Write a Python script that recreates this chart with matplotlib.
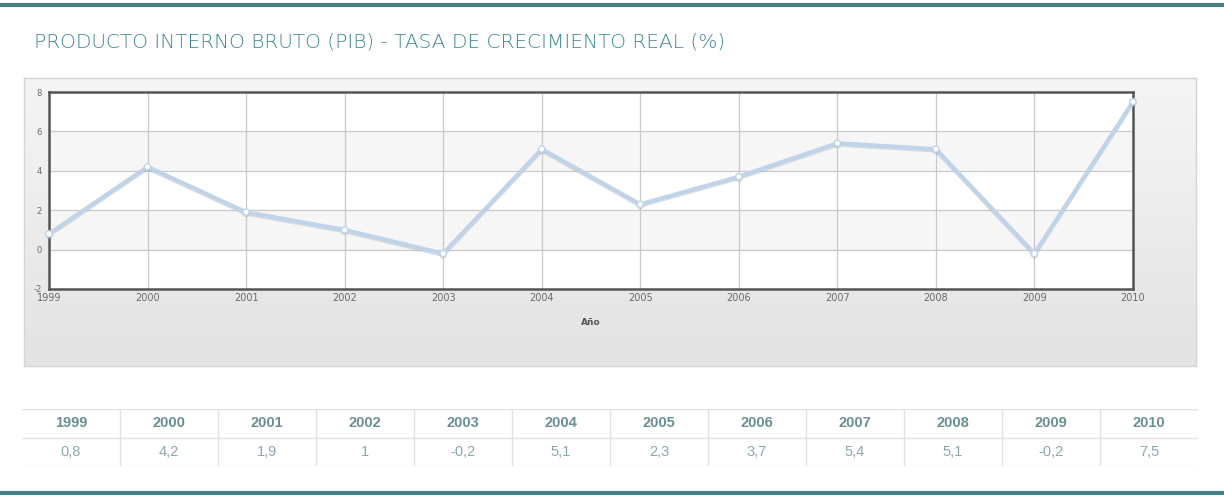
import numpy as np
import matplotlib.pyplot as plt
import matplotlib.patheffects as pe
from matplotlib.colors import LinearSegmentedColormap
from matplotlib.lines import Line2D

plt.rcParams['axes.unicode_minus'] = False

# datos
anios = [1999, 2000, 2001, 2002, 2003, 2004, 2005, 2006, 2007, 2008, 2009, 2010]
pib = [0.8, 4.2, 1.9, 1.0, -0.2, 5.1, 2.3, 3.7, 5.4, 5.1, -0.2, 7.5]
etiquetas_valor = ['0,8', '4,2', '1,9', '1', '-0,2', '5,1', '2,3', '3,7', '5,4', '5,1', '-0,2', '7,5']
titulo = 'PRODUCTO INTERNO BRUTO (PIB) - TASA DE CRECIMIENTO REAL (%)'

W, H = 1224, 495
fig = plt.figure(figsize=(W / 100, H / 100), dpi=100)
fig.patch.set_facecolor('white')


def caja(x0, y0, x1, y1):
    # pasa pixeles (arriba-izquierda) a coordenadas de figura
    return [x0 / W, 1 - y1 / H, (x1 - x0) / W, (y1 - y0) / H]


# lineas teal arriba y abajo
fig.add_artist(Line2D([0, 1], [1 - 4.5 / H] * 2, color='#4b7f86', lw=3))
fig.add_artist(Line2D([0, 1], [1 - 493 / H] * 2, color='#4b7f86', lw=3))

# titulo
fig.text(34 / W, 1 - 42 / H, titulo, color='#3a8893', fontsize=14.5,
         family='DejaVu Sans', fontweight='light', va='center', ha='left')

# panel de fondo con degradado
fondo = fig.add_axes(caja(24, 78, 1196, 366))
grad = np.linspace(0, 1, 100).reshape(-1, 1)
fondo.imshow(grad, aspect='auto',
             cmap=LinearSegmentedColormap.from_list('g', ['#f5f5f5', '#e3e3e3']),
             extent=[0, 1, 0, 1], origin='upper')
fondo.set_xticks([])
fondo.set_yticks([])
for s in fondo.spines.values():
    s.set_color('#d5d5d5')
    s.set_linewidth(1)

# grafico
ax = fig.add_axes(caja(49, 92, 1133, 289))
ax.set_facecolor('white')
ax.set_xlim(1999, 2010)
ax.set_ylim(-2, 8)
for y0 in [4, 0]:
    ax.axhspan(y0, y0 + 2, color='#f6f6f6', zorder=0, lw=0)
ax.set_xticks(anios)
ax.set_yticks([-2, 0, 2, 4, 6, 8])
ax.grid(True, color='#c9c9c9', lw=0.9, zorder=1)
ax.tick_params(axis='both', length=0, labelsize=7, labelcolor='#6a6a6a', pad=3)
ax.tick_params(axis='y', labelsize=6, pad=5)
for s in ax.spines.values():
    s.set_color('#555555')
    s.set_linewidth(1.8)
ax.plot(anios, pib, color='#bfd4e9', lw=3, marker='o', ms=4.5,
        markerfacecolor='white', markeredgecolor='#bfd4e9', markeredgewidth=1,
        clip_on=False, zorder=3,
        path_effects=[pe.SimpleLineShadow(offset=(0, -1), shadow_color='#9aa6b0', alpha=0.35),
                      pe.Normal()])
ax.set_xlabel('Año', fontsize=6.5, fontweight='bold', color='#555555', labelpad=11)

# tabla
tb = fig.add_axes(caja(22, 409, 1198, 466))
tb.set_xlim(0, 12)
tb.set_ylim(0, 2)
tb.axis('off')
gris = '#e2e2e2'
for yy in [0, 1, 2]:
    tb.axhline(yy, color=gris, lw=1)
for i in range(1, 12):
    tb.axvline(i, color=gris, lw=1)
for i, (a, v) in enumerate(zip(anios, etiquetas_valor)):
    tb.text(i + 0.5, 1.5, str(a), ha='center', va='center', fontsize=10.5,
            fontweight='bold', color='#6a9094', family='Liberation Sans')
    tb.text(i + 0.5, 0.5, v, ha='center', va='center', fontsize=10.5,
            color='#8aa8ab', family='Liberation Sans')

fig.savefig('out.png', dpi=100)
